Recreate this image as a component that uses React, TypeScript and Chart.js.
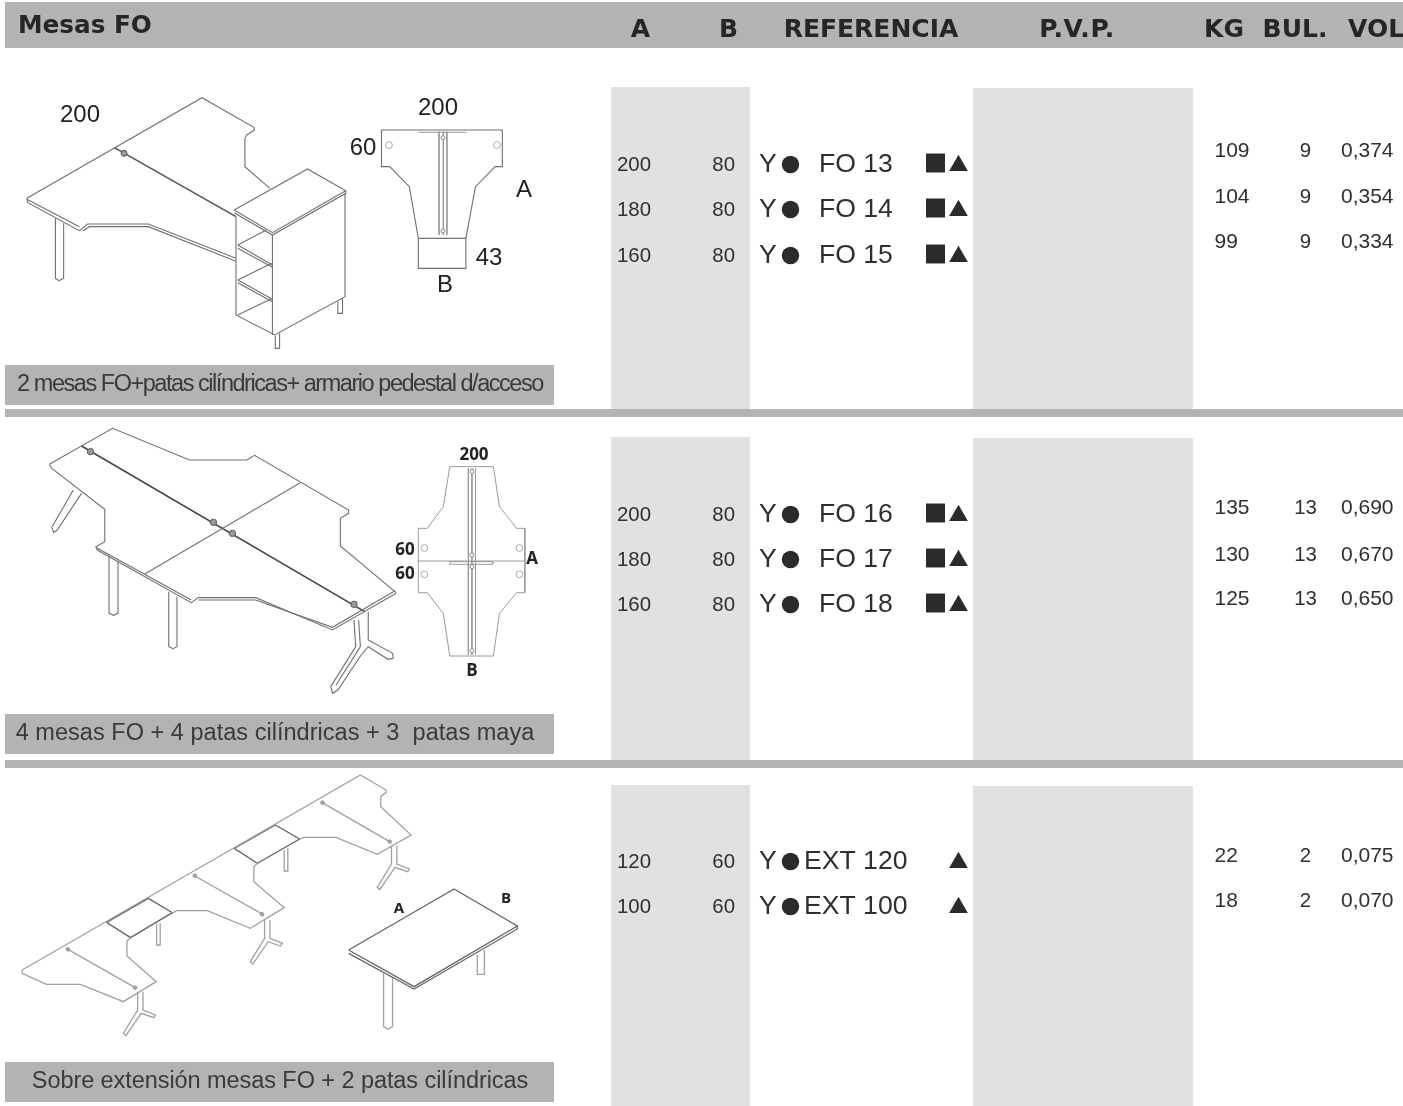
import { useEffect, useRef } from "react";
import { Chart, registerables } from "chart.js";

Chart.register(...registerables);

// ---- table content ----
const title = "Mesas FO";
const headers = ["A", "B", "REFERENCIA", "P.V.P.", "KG", "BUL.", "VOL"];
const captions = [
  "2 mesas FO+patas cilíndricas+ armario pedestal d/acceso",
  "4 mesas FO + 4 patas cilíndricas + 3  patas maya",
  "Sobre extensión mesas FO + 2 patas cilíndricas",
];
const sizeA = [200, 180, 160, 200, 180, 160, 120, 100];
const sizeB = [80, 80, 80, 80, 80, 80, 60, 60];
const references = ["FO 13", "FO 14", "FO 15", "FO 16", "FO 17", "FO 18", "EXT 120", "EXT 100"];
const hasSquare = [true, true, true, true, true, true, false, false];
const weightKg = ["109", "104", "99", "135", "130", "125", "22", "18"];
const packages = ["9", "9", "9", "13", "13", "13", "2", "2"];
const volume = ["0,374", "0,354", "0,334", "0,690", "0,670", "0,650", "0,075", "0,070"];

// ---- layout (picture units) ----
const rowY = [164, 209, 255, 514, 559, 604, 861, 906];
const rightRowY = [150, 196, 241, 507, 554, 598, 855, 900];
const headerX = [640.5, 728.5, 871, 1077, 1224, 1295, 1348];
const bands = [
  { x0: 5, x1: 1403, y0: 2, y1: 48, c: "#b3b3b3" },
  { x0: 5, x1: 1403, y0: 409, y1: 417, c: "#b3b3b3" },
  { x0: 5, x1: 1403, y0: 760, y1: 768, c: "#b3b3b3" },
  { x0: 611, x1: 750, y0: 87, y1: 409, c: "#e1e1e1" },
  { x0: 973, x1: 1193, y0: 88, y1: 409, c: "#e1e1e1" },
  { x0: 611, x1: 750, y0: 437, y1: 760, c: "#e1e1e1" },
  { x0: 973, x1: 1193, y0: 438, y1: 760, c: "#e1e1e1" },
  { x0: 611, x1: 750, y0: 785, y1: 1106, c: "#e1e1e1" },
  { x0: 973, x1: 1193, y0: 786, y1: 1106, c: "#e1e1e1" },
  { x0: 5, x1: 554, y0: 365, y1: 405, c: "#b3b3b3" },
  { x0: 5, x1: 554, y0: 714, y1: 754, c: "#b3b3b3" },
  { x0: 5, x1: 554, y0: 1062, y1: 1102, c: "#b3b3b3" },
];

type P = [number, number];
const SX = 2.797;
const SY = 3;
const at = (oy: number, pts: P[]) => pts.map(([X, Y]) => ({ x: X / SX, y: oy + Y / SY }));
const shift = (pts: P[], dx: number, dy: number): P[] => pts.map(([x, y]) => [x + dx, y + dy]);

// ---- line drawings ----
const art1: P[][] = [
  [[75, 385], [565, 83], [710, 172], [712, 180], [690, 195], [685, 205], [685, 290], [755, 355]],
  [[75, 385], [78, 398], [222, 482], [245, 462], [415, 462], [660, 565]],
  [[222, 470], [75, 388]],
  [[232, 482], [250, 470], [415, 470], [660, 574]],
  [[155, 445], [155, 625], [165, 632], [178, 625], [178, 460]],
  [[655, 420], [860, 297], [967, 362], [762, 488], [655, 420]],
  [[655, 428], [762, 495], [967, 370], [967, 362]],
  [[660, 440], [660, 735], [768, 795], [965, 680], [965, 370]],
  [[762, 495], [762, 795]],
  [[665, 525], [762, 585]],
  [[665, 535], [762, 592]],
  [[665, 630], [762, 688]],
  [[665, 638], [762, 695]],
  [[665, 525], [745, 480]],
  [[665, 630], [760, 580]],
  [[665, 735], [762, 685]],
  [[770, 797], [770, 835], [782, 835], [782, 790]],
  [[945, 695], [945, 730], [958, 730], [958, 685]],
  [[1067, 180], [1405, 180], [1405, 290], [1385, 290], [1330, 350], [1303, 505], [1303, 595], [1170, 595], [1170, 505], [1145, 350], [1090, 290], [1067, 290], [1067, 180]],
  [[1170, 505], [1303, 505]],
];
const art1Faint: P[][] = [
  [[1170, 187], [1305, 187]],
  [[1228, 185], [1228, 495]],
  [[1250, 185], [1250, 495]],
  [[1240, 185], [1240, 495]],
];
const art1Dark: P[][] = [[[320, 233], [660, 440]]];
const art2: P[][] = [
  [[138, 133], [315, 25], [530, 120], [690, 120], [712, 106], [975, 270], [975, 280], [952, 295], [952, 378], [1108, 518]],
  [[138, 133], [145, 145], [293, 268], [293, 365], [268, 380], [272, 390], [535, 548], [555, 533], [715, 533], [930, 630], [1108, 520]],
  [[270, 383], [535, 540]],
  [[555, 540], [715, 540], [930, 622], [1105, 512]],
  [[840, 188], [405, 462]],
  [[305, 410], [305, 580], [318, 586], [330, 580], [330, 425]],
  [[472, 515], [472, 680], [484, 686], [495, 680], [495, 530]],
  [[205, 210], [145, 322], [150, 338], [160, 330], [228, 220]],
  [[990, 600], [995, 680], [925, 800], [930, 820], [945, 810], [1010, 705], [1030, 680], [1085, 718], [1100, 715], [1098, 700], [1030, 660], [1030, 575]],
  [[1003, 600], [1008, 680], [940, 795]],
];
const art2Faint: P[][] = [
  [[1258, 140], [1380, 140], [1397, 260], [1445, 325], [1468, 325], [1468, 518], [1445, 518], [1397, 580], [1380, 708], [1258, 708], [1240, 580], [1195, 518], [1170, 518], [1170, 325], [1195, 325], [1240, 260], [1258, 140]],
  [[1170, 423], [1468, 423]],
  [[1258, 425], [1378, 425], [1378, 433], [1258, 433], [1258, 425]],
  [[1310, 145], [1310, 705]],
  [[1330, 145], [1330, 705]],
  [[1320, 145], [1320, 705]],
];
const art2Dark: P[][] = [[[228, 78], [1020, 575]]];
const maya3: P[] = [[385, 680], [385, 735], [345, 805], [352, 812], [395, 745], [430, 758], [435, 750], [400, 735], [400, 680]];
const art3: P[][] = [
  [[62, 615], [1008, 30], [1080, 75], [1080, 82], [1065, 95], [1065, 125], [1150, 210], [1055, 268], [940, 217], [850, 217], [838, 222]],
  [[720, 295], [710, 305], [710, 350], [795, 428], [700, 490], [580, 437], [495, 437], [480, 445]],
  [[365, 518], [355, 528], [355, 573], [437, 650], [345, 710], [225, 658], [130, 658], [62, 625], [62, 615]],
  [[185, 550], [378, 668]],
  [[540, 330], [735, 448]],
  [[900, 112], [1090, 230]],
  [[795, 255], [795, 318], [805, 318], [805, 250]],
  [[438, 478], [438, 540], [448, 540], [448, 475]],
  maya3,
  shift(maya3, 355, -215),
  shift(maya3, 710, -438),
  [[1073, 625], [1073, 785], [1085, 793], [1098, 785], [1098, 640]],
  [[1335, 570], [1335, 628], [1355, 628], [1355, 555]],
];
const art3Dark: P[][] = [
  [[655, 250], [770, 180], [838, 222], [720, 295], [655, 250]],
  [[298, 472], [415, 400], [482, 443], [365, 518], [298, 472]],
  [[975, 555], [1270, 372], [1447, 483], [1158, 665], [975, 555]],
  [[975, 565], [1158, 672], [1447, 492], [1447, 483]],
];
const grommets1: P[] = [[347, 250]];
const holes1: P[] = [[1088, 225], [1390, 225]];
const smallHoles1: P[] = [[1239, 203], [1239, 483]];
const grommets2: P[] = [[253, 95], [597, 307], [650, 340], [990, 553]];
const holes2: P[] = [[1187, 384], [1453, 384], [1187, 463], [1453, 463]];
const smallHoles2: P[] = [[1320, 155], [1320, 405], [1320, 440], [1320, 692]];
const grommets3: P[] = [[190, 553], [378, 668], [545, 332], [733, 448], [902, 113], [1090, 230]];

const HELV = '"Liberation Sans", Arial, sans-serif';
const OPEN = '"Open Sans", sans-serif';
const WIDE = '"DejaVu Sans", sans-serif';
type T = { t: string; x: number; y: number; font: string; c?: string; a?: CanvasTextAlign; ls?: string };

const INK = "#2f2f2f";
const texts: T[] = [
  { t: title, x: 18, y: 27, font: `bold 24.7px ${WIDE}`, c: "#262626" },
  ...headers.map((t, i) => ({ t, x: headerX[i], y: 30, font: `bold 25px ${WIDE}`, c: "#262626", a: (i === 6 ? "left" : "center") as CanvasTextAlign, ls: i === 3 ? "0.6px" : "0px" })),
  { t: captions[0], x: 280, y: 385, font: `23.5px ${HELV}`, c: "#3a3a3a", a: "center", ls: "-1.46px" },
  { t: captions[1], x: 275, y: 734, font: `23.5px ${HELV}`, c: "#3a3a3a", a: "center", ls: "0.03px" },
  { t: captions[2], x: 280, y: 1082, font: `23.5px ${HELV}`, c: "#3a3a3a", a: "center", ls: "-0.07px" },
  ...rowY.flatMap((y, i) => [
    { t: String(sizeA[i]), x: 617, y: y + 1, font: `20.4px ${HELV}`, c: INK },
    { t: String(sizeB[i]), x: 735, y: y + 1, font: `20.4px ${HELV}`, c: INK, a: "right" as CanvasTextAlign },
    { t: "Y", x: 759, y: y + 1, font: `26.6px ${HELV}`, c: INK },
    { t: references[i], x: hasSquare[i] ? 819 : 804, y: y + 1, font: `26.6px ${HELV}`, c: INK },
  ]),
  ...rightRowY.flatMap((y, i) => [
    { t: weightKg[i], x: 1214.5, y: y + 1, font: `21px ${HELV}`, c: INK },
    { t: packages[i], x: 1305.5, y: y + 1, font: `20.4px ${HELV}`, c: INK, a: "center" as CanvasTextAlign },
    { t: volume[i], x: 1341, y: y + 1, font: `21px ${HELV}`, c: INK },
  ]),
  { t: "200", x: 80, y: 115, font: `24px ${HELV}`, c: "#222", a: "center" },
  { t: "200", x: 438, y: 108, font: `24px ${HELV}`, c: "#222", a: "center" },
  { t: "60", x: 363, y: 148, font: `24px ${HELV}`, c: "#222", a: "center" },
  { t: "A", x: 524, y: 190, font: `24px ${HELV}`, c: "#222", a: "center" },
  { t: "43", x: 489, y: 258, font: `24px ${HELV}`, c: "#222", a: "center" },
  { t: "B", x: 445, y: 285, font: `24px ${HELV}`, c: "#222", a: "center" },
  { t: "200", x: 474, y: 455, font: `bold 17px ${OPEN}`, c: "#222", a: "center" },
  { t: "60", x: 405, y: 550, font: `bold 17px ${OPEN}`, c: "#222", a: "center" },
  { t: "60", x: 405, y: 574, font: `bold 17px ${OPEN}`, c: "#222", a: "center" },
  { t: "A", x: 532, y: 559, font: `bold 17px ${OPEN}`, c: "#222", a: "center" },
  { t: "B", x: 472, y: 671, font: `bold 17px ${OPEN}`, c: "#222", a: "center" },
  { t: "A", x: 399, y: 909, font: `bold 15px ${OPEN}`, c: "#222", a: "center" },
  { t: "B", x: 506, y: 899, font: `bold 15px ${OPEN}`, c: "#222", a: "center" },
];

const textPlugin = {
  id: "tableText",
  afterDatasetsDraw(chart: any) {
    const { ctx, scales } = chart;
    ctx.save();
    ctx.textBaseline = "middle";
    for (const d of texts) {
      ctx.font = d.font;
      ctx.fillStyle = d.c ?? "#333";
      ctx.textAlign = d.a ?? "left";
      (ctx as any).letterSpacing = d.ls ?? "0px";
      ctx.fillText(d.t, scales.x.getPixelForValue(d.x), scales.y.getPixelForValue(d.y));
    }
    ctx.restore();
  },
};

const lineSet = (points: { x: number; y: number }[], color: string, width: number) => ({
  type: "scatter" as const,
  data: points,
  showLine: true,
  borderColor: color,
  borderWidth: width,
  pointRadius: 0,
  tension: 0,
  fill: false,
  order: 5,
});

const pointSet = (points: { x: number; y: number }[], style: string, radius: number, bg: string, border: string, bw: number, order = 1) => ({
  type: "scatter" as const,
  data: points,
  showLine: false,
  pointStyle: style,
  pointRadius: radius,
  backgroundColor: bg,
  pointBackgroundColor: bg,
  pointBorderColor: border,
  pointBorderWidth: bw,
  order,
});

export default function App() {
  const ref = useRef<HTMLCanvasElement>(null);
  useEffect(() => {
    if (!ref.current) return;
    const datasets: any[] = [
      ...bands.map((b) => ({
        type: "scatter" as const,
        data: [{ x: b.x0, y: b.y0 }, { x: b.x1, y: b.y0 }],
        showLine: true,
        borderWidth: 0,
        borderColor: "transparent",
        pointRadius: 0,
        backgroundColor: b.c,
        fill: { value: b.y1 },
        order: 10,
      })),
      ...art1.map((l) => lineSet(at(70, l), "#707070", 1.1)),
      ...art1Faint.map((l) => lineSet(at(70, l), "#9a9a9a", 1)),
      ...art1Dark.map((l) => lineSet(at(70, l), "#555", 1.6)),
      ...art2.map((l) => lineSet(at(420, l), "#707070", 1.1)),
      ...art2Faint.map((l) => lineSet(at(420, l), "#9a9a9a", 1)),
      ...art2Dark.map((l) => lineSet(at(420, l), "#444", 1.6)),
      ...art3.map((l) => lineSet(at(765, l), "#a0a0a0", 1.3)),
      ...art3Dark.map((l) => lineSet(at(765, l), "#666", 1.3)),
      pointSet(at(70, grommets1), "circle", 3, "#999", "#555", 1),
      pointSet(at(70, holes1), "circle", 3.4, "#ffffff", "#aaa", 1),
      pointSet(at(70, smallHoles1), "circle", 2, "#ffffff", "#888", 1),
      pointSet(at(420, grommets2), "circle", 3.2, "#999", "#555", 1),
      pointSet(at(420, holes2), "circle", 3.4, "#ffffff", "#aaa", 1),
      pointSet(at(420, smallHoles2), "circle", 2, "#ffffff", "#888", 1),
      pointSet(at(765, grommets3), "circle", 1.8, "#aaa", "#888", 0.8),
      pointSet(rowY.map((y) => ({ x: 790.5, y: y + 0.5 })), "circle", 8.7, "#2b2b2b", "#2b2b2b", 0),
      pointSet(rowY.flatMap((y, i) => (hasSquare[i] ? [{ x: 935.5, y: y - 1 }] : [])), "rect", 13.4, "#2b2b2b", "#2b2b2b", 0),
      pointSet(rowY.map((y) => ({ x: 958.5, y: y + 1.5 })), "triangle", 10.8, "#2b2b2b", "#2b2b2b", 0),
    ];
    const chart = new Chart(ref.current, {
      type: "scatter",
      data: { datasets },
      plugins: [textPlugin],
      options: {
        animation: false,
        responsive: false,
        layout: { padding: 0, autoPadding: false },
        scales: {
          x: { type: "linear", min: 0, max: 1403, display: false },
          y: { type: "linear", min: 0, max: 1106, reverse: true, display: false },
        },
        plugins: { legend: { display: false }, tooltip: { enabled: false }, title: { display: false } },
        events: [],
      },
    } as any);
    return () => chart.destroy();
  }, []);
  return (
    <div style={{ position: "absolute", left: 0, top: 0, width: 1403, height: 1106, background: "#fff", overflow: "hidden" }}>
      <canvas ref={ref} width={1403} height={1106} style={{ display: "block" }} />
    </div>
  );
}
